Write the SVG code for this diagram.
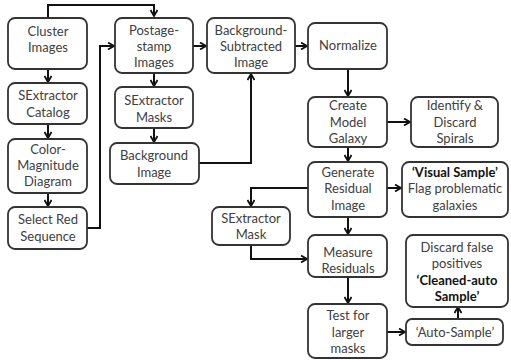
<svg xmlns="http://www.w3.org/2000/svg" width="511" height="360" viewBox="0 0 511 360">
<style>
.b{fill:#fff;stroke:#333;stroke-width:1.8}
.t{font-family:Lato,"Liberation Sans",sans-serif;font-size:13px;fill:#404040;text-anchor:middle}
.bd{font-weight:bold;fill:#111}
.c{fill:none;stroke:#111;stroke-width:2}
</style>
<defs>
<marker id="a" markerWidth="8" markerHeight="8" refX="7" refY="4" orient="auto" markerUnits="userSpaceOnUse">
<path d="M1,0.5 L7,4 L1,7.5" fill="none" stroke="#111" stroke-width="1.8"/>
</marker>
</defs>
<rect width="511" height="360" fill="#fff"/>
<g id="connectors">
<path class="c" d="M48,18 V5 H154 V16" marker-end="url(#a)"/>
<path class="c" d="M48,69 V82" marker-end="url(#a)"/>
<path class="c" d="M48,124 V138" marker-end="url(#a)"/>
<path class="c" d="M48,193 V206" marker-end="url(#a)"/>
<path class="c" d="M87,228 H100 V46 H114" marker-end="url(#a)"/>
<path class="c" d="M154,73 V86" marker-end="url(#a)"/>
<path class="c" d="M154,128 V142" marker-end="url(#a)"/>
<path class="c" d="M193,46 H206" marker-end="url(#a)"/>
<path class="c" d="M199,163 H251 V74" marker-end="url(#a)"/>
<path class="c" d="M295,46 H307" marker-end="url(#a)"/>
<path class="c" d="M348,69 V96" marker-end="url(#a)"/>
<path class="c" d="M387,122 H410" marker-end="url(#a)"/>
<path class="c" d="M348,147 V161" marker-end="url(#a)"/>
<path class="c" d="M387,188 H401" marker-end="url(#a)"/>
<path class="c" d="M308,188 H251 V206" marker-end="url(#a)"/>
<path class="c" d="M251,245 V259 H307" marker-end="url(#a)"/>
<path class="c" d="M348,217 V234" marker-end="url(#a)"/>
<path class="c" d="M348,277 V303" marker-end="url(#a)"/>
<path class="c" d="M387,332 H405" marker-end="url(#a)"/>
<path class="c" d="M458,319 V307" marker-end="url(#a)"/>
</g>
<g id="cluster"><rect class="b" x="8" y="18" width="79" height="51" rx="7"/><text class="t" x="48" y="36">Cluster</text><text class="t" x="48" y="52">Images</text></g>
<g id="secat"><rect class="b" x="8" y="83" width="79" height="41" rx="7"/><text class="t" x="48" y="100">SExtractor</text><text class="t" x="48" y="117">Catalog</text></g>
<g id="cmd"><rect class="b" x="8" y="139" width="79" height="54" rx="7"/><text class="t" x="48" y="154">Color-</text><text class="t" x="48" y="170">Magnitude</text><text class="t" x="48" y="186">Diagram</text></g>
<g id="redseq"><rect class="b" x="8" y="207" width="79" height="42" rx="7"/><text class="t" x="48" y="224">Select Red</text><text class="t" x="48" y="241">Sequence</text></g>
<g id="postage"><rect class="b" x="115" y="18" width="78" height="55" rx="7"/><text class="t" x="154" y="35">Postage-</text><text class="t" x="154" y="51">stamp</text><text class="t" x="154" y="67">Images</text></g>
<g id="semasks"><rect class="b" x="115" y="87" width="78" height="41" rx="7"/><text class="t" x="154" y="105">SExtractor</text><text class="t" x="154" y="122">Masks</text></g>
<g id="bgimg"><rect class="b" x="110" y="143" width="89" height="41" rx="7"/><text class="t" x="154" y="160">Background</text><text class="t" x="154" y="177">Image</text></g>
<g id="bgsub"><rect class="b" x="207" y="18" width="88" height="55" rx="7"/><text class="t" x="251" y="35">Background-</text><text class="t" x="251" y="51">Subtracted</text><text class="t" x="251" y="67">Image</text></g>
<g id="normalize"><rect class="b" x="308" y="23" width="79" height="46" rx="7"/><text class="t" x="348" y="50">Normalize</text></g>
<g id="model"><rect class="b" x="308" y="97" width="79" height="50" rx="7"/><text class="t" x="348" y="110">Create</text><text class="t" x="348" y="127">Model</text><text class="t" x="348" y="143">Galaxy</text></g>
<g id="spirals"><rect class="b" x="411" y="97" width="87" height="50" rx="7"/><text class="t" x="455" y="110">Identify &amp;</text><text class="t" x="455" y="127">Discard</text><text class="t" x="455" y="143">Spirals</text></g>
<g id="residual"><rect class="b" x="308" y="162" width="79" height="55" rx="7"/><text class="t" x="348" y="177">Generate</text><text class="t" x="348" y="193">Residual</text><text class="t" x="348" y="210">Image</text></g>
<g id="visual"><rect class="b" x="402" y="162" width="106" height="55" rx="7"/><text class="t bd" x="455" y="177">‘Visual Sample’</text><text class="t" x="455" y="193">Flag problematic</text><text class="t" x="455" y="210">galaxies</text></g>
<g id="semask"><rect class="b" x="212" y="207" width="78" height="38" rx="7"/><text class="t" x="251" y="223">SExtractor</text><text class="t" x="251" y="239">Mask</text></g>
<g id="measure"><rect class="b" x="308" y="235" width="79" height="42" rx="7"/><text class="t" x="348" y="257">Measure</text><text class="t" x="348" y="273">Residuals</text></g>
<g id="test"><rect class="b" x="308" y="304" width="79" height="54" rx="7"/><text class="t" x="348" y="320">Test for</text><text class="t" x="348" y="337">larger</text><text class="t" x="348" y="353">masks</text></g>
<g id="discard"><rect class="b" x="406" y="235" width="102" height="72" rx="7"/><text class="t" x="457" y="252">Discard false</text><text class="t" x="457" y="268">positives</text><text class="t bd" x="457" y="285">‘Cleaned-auto</text><text class="t bd" x="457" y="301">Sample’</text></g>
<g id="auto"><rect class="b" x="406" y="319" width="97" height="26" rx="6"/><text class="t" x="455" y="337">‘Auto-Sample’</text></g>
</svg>
